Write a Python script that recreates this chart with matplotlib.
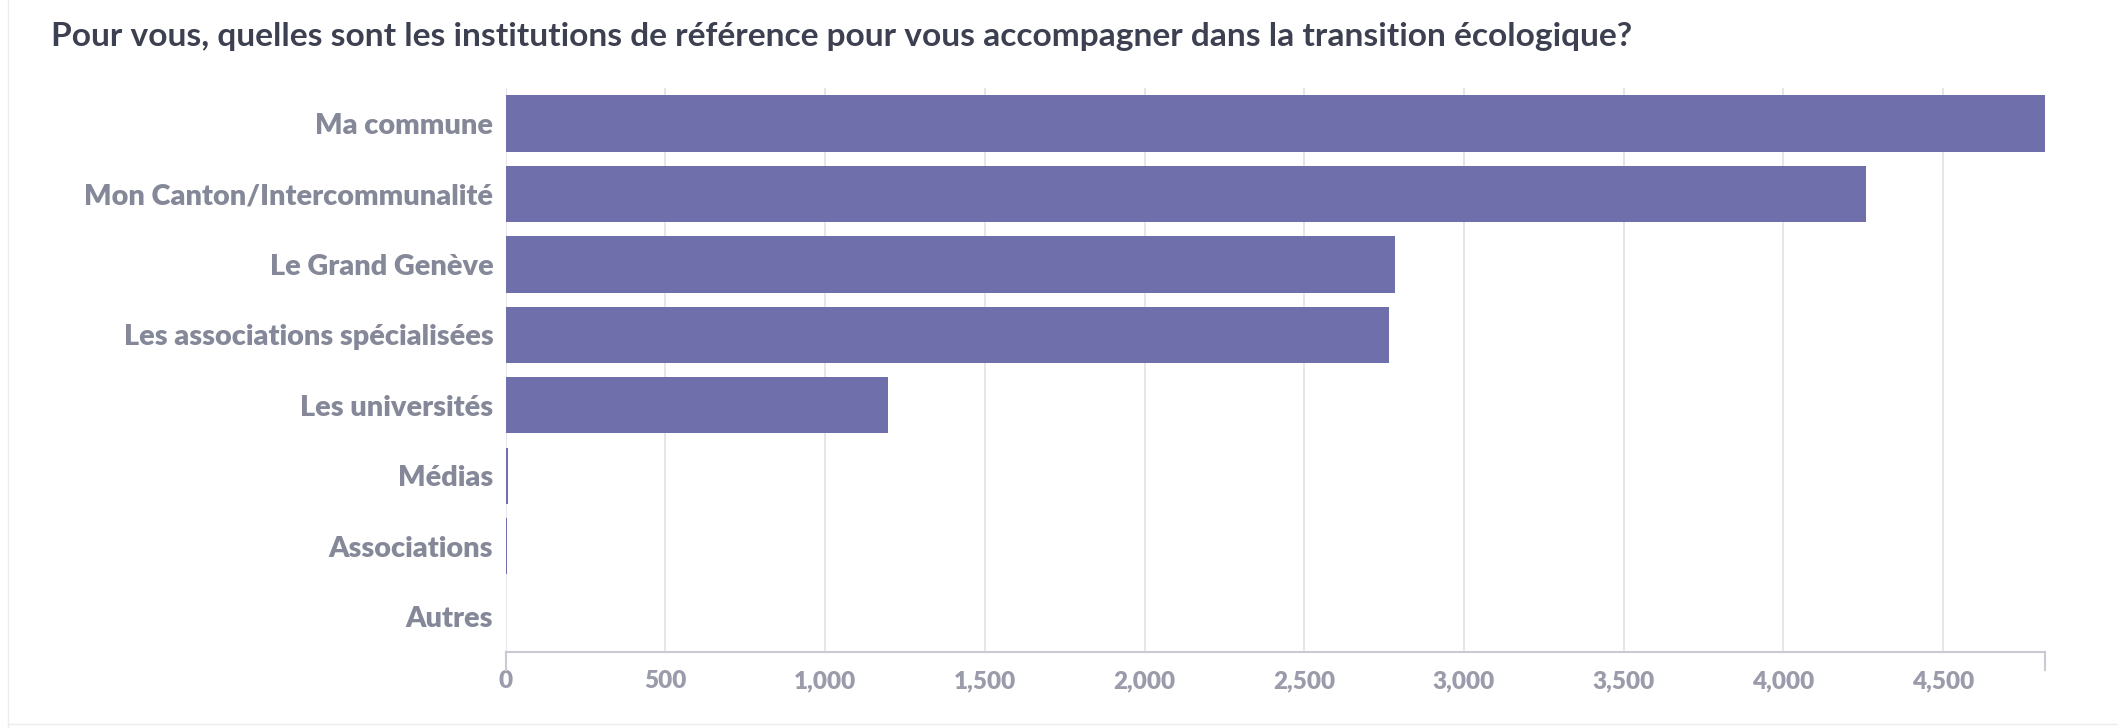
import matplotlib
matplotlib.use("Agg")
import matplotlib.pyplot as plt
from matplotlib.ticker import FuncFormatter, MultipleLocator

# -- Data ----------------------------------------------------------------------

institutions = [
    "Ma commune",
    "Mon Canton/Intercommunalité",
    "Le Grand Genève",
    "Les associations spécialisées",
    "Les universités",
    "Médias",
    "Associations",
    "Autres",
]
responses = [4818, 4259, 2784, 2765, 1198, 6, 5, 0]

title = "Pour vous, quelles sont les institutions de référence pour vous accompagner dans la transition écologique?"

# -- Figure --------------------------------------------------------------------

plt.rcParams["font.family"] = ["Lato", "DejaVu Sans"]

fig = plt.figure(figsize=(21.18, 7.28), dpi=100)
ax = fig.add_axes([0.2388, 0.1044, 0.7266, 0.7746])

pos = range(len(institutions))
ax.barh(pos, responses, height=0.8, color="#6f6fab", zorder=3)

ax.set_ylim(len(institutions) - 0.5, -0.5)
ax.set_xlim(0, max(responses))
ax.set_yticks(list(pos))
ax.set_yticklabels(institutions)
ax.tick_params(axis="y", length=0, pad=9)
for lbl in ax.get_yticklabels():
    lbl.set_fontsize(20.8)
    lbl.set_fontweight(800)
    lbl.set_color("#858898")

ax.xaxis.set_major_locator(MultipleLocator(500))
ax.xaxis.set_major_formatter(FuncFormatter(lambda v, p: f"{int(v):,}"))
ax.tick_params(axis="x", length=0, pad=13)
for lbl in ax.get_xticklabels():
    lbl.set_fontsize(17.5)
    lbl.set_fontweight(800)
    lbl.set_color("#9a9cab")

ax.grid(axis="x", color="#e2e2e6", linewidth=1.2, zorder=0)
for side in ["top", "right", "left"]:
    ax.spines[side].set_visible(False)
ax.spines["bottom"].set_color("#c9cad2")
ax.spines["bottom"].set_linewidth(1.5)

# small end ticks on the x axis
for xv in [0, max(responses)]:
    ax.plot([xv, xv], [len(institutions) - 0.5, len(institutions) - 0.25],
            color="#c9cad2", linewidth=1.5, clip_on=False, zorder=4)

fig.text(0.024, 0.95, title, fontsize=24.1, fontweight=700, color="#3d4050",
         ha="left", va="center")

# faint card border
fig.add_artist(plt.Line2D([0.004, 0.004], [0.0, 1.0], color="#ececec", linewidth=1))
fig.add_artist(plt.Line2D([0.004, 1.0], [0.006, 0.006], color="#ececec", linewidth=1))

fig.savefig("out.png", dpi=100)
